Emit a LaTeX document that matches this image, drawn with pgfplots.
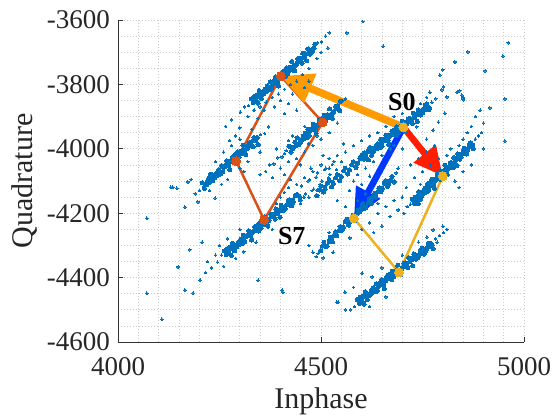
\documentclass[border=0pt]{standalone}
\usepackage{fontspec}
\setmainfont{Liberation Serif}
\usepackage{pgfplots}
\pgfplotsset{compat=1.18}
\usetikzlibrary{arrows.meta}
\definecolor{mblue}{rgb}{0,0.447,0.741}
\definecolor{mred}{rgb}{0.85,0.325,0.098}
\definecolor{myel}{rgb}{0.929,0.694,0.125}
\definecolor{aorange}{RGB}{255,155,0}
\definecolor{ared}{RGB}{255,30,0}
\definecolor{ablue}{RGB}{0,55,255}
\begin{document}
\begin{tikzpicture}
\begin{axis}[
  at={(118pt,74pt)}, anchor=south west,
  scale only axis, width=406pt, height=322pt,
  xmin=4000, xmax=5000, ymin=-4600, ymax=-3600,
  xtick={4000,4500,5000},
  ytick={-4600,-4400,-4200,-4000,-3800,-3600},
  minor x tick num=9, minor y tick num=3,
  grid=both,
  major grid style={gray!40, line width=0.7pt, dash pattern=on 0.8pt off 2.2pt},
  minor grid style={gray!40, line width=0.7pt, dash pattern=on 0.8pt off 2.2pt},
  axis x line*=bottom, axis y line*=left,
  axis line style={-, black!80, line width=0.8pt},
  tick align=inside,
  major tick length=5pt, minor tick length=0pt,
  every tick/.style={black!80, line width=0.8pt},
  /pgf/number format/assume math mode=true,
  /pgf/number format/1000 sep={},
  tick label style={font=\fontsize{27}{30}\selectfont, text=black!85, inner sep=0pt},
  xticklabel style={yshift=-15pt},
  yticklabel style={xshift=-8pt},
  xlabel={Inphase}, ylabel={Quadrature},
  every axis x label/.style={at={(axis description cs:0.5,-0.205)}, anchor=base, font=\fontsize{30}{34}\selectfont, text=black!85},
  every axis y label/.style={at={(axis description cs:-0.2094,0.5)}, anchor=base, rotate=90, font=\fontsize{30}{34}\selectfont, text=black!85},
  clip=true,
]
% dense streak cores
\addplot[only marks, color=mblue, mark=*, mark size=2.1pt, mark options={line width=0pt}] coordinates {
(4328,-3845) (4333,-3857) (4335,-3838) (4338,-3848) (4343,-3832) (4345,-3858)
(4348,-3819) (4353,-3843) (4355,-3830) (4358,-3830) (4363,-3814) (4365,-3822)
(4368,-3805) (4373,-3817) (4375,-3792) (4378,-3812) (4383,-3795) (4385,-3790)
(4388,-3777) (4393,-3793) (4395,-3805) (4398,-3779) (4403,-3763) (4405,-3774)
(4408,-3759) (4413,-3775) (4415,-3749) (4418,-3766) (4423,-3747) (4425,-3755)
(4428,-3729) (4433,-3745) (4435,-3758) (4438,-3740) (4443,-3721) (4445,-3728)
(4448,-3719) (4453,-3734) (4455,-3703) (4458,-3715) (4463,-3705) (4465,-3727)
(4468,-3690) (4473,-3706) (4475,-3699) (4478,-3699) (4483,-3687) (4485,-3675)
(4340,-3842) (4360,-3820) (4380,-3800) (4400,-3778) (4420,-3757) (4440,-3735) (4460,-3713) (4480,-3691)
(4350,-3831) (4370,-3810) (4390,-3789) (4410,-3768) (4430,-3746) (4450,-3724) (4470,-3702)
(4208,-4105) (4213,-4123) (4215,-4110) (4218,-4112) (4223,-4092) (4225,-4104)
(4228,-4079) (4233,-4099) (4235,-4093) (4238,-4090) (4243,-4074) (4245,-4082)
(4248,-4065) (4253,-4078) (4255,-4052) (4258,-4072) (4263,-4055) (4265,-4050)
(4268,-4037) (4273,-4053) (4275,-4065) (4278,-4039) (4283,-4024) (4285,-4034)
(4288,-4019) (4293,-4035) (4295,-4009) (4298,-4026) (4303,-4007) (4305,-4015)
(4308,-3989) (4313,-4005) (4315,-4018) (4318,-4000) (4323,-3981) (4325,-3988)
(4328,-3979) (4333,-3994) (4335,-3965) (4338,-3975) (4343,-3965) (4345,-3987)
(4220,-4102) (4240,-4080) (4260,-4058) (4280,-4036) (4300,-4014) (4320,-3992)
(4230,-4091) (4250,-4069) (4270,-4047) (4290,-4025) (4310,-4003)
(4421,-3992) (4426,-4010) (4428,-3997) (4431,-3999) (4436,-3979) (4438,-3991)
(4441,-3966) (4446,-3986) (4448,-3980) (4451,-3977) (4456,-3961) (4458,-3969)
(4461,-3952) (4466,-3965) (4468,-3939) (4471,-3959) (4476,-3942) (4478,-3937)
(4481,-3924) (4486,-3940) (4488,-3952) (4491,-3926) (4496,-3911) (4498,-3921)
(4501,-3906) (4506,-3922) (4508,-3896) (4511,-3913) (4516,-3894) (4518,-3902)
(4521,-3876) (4526,-3892) (4528,-3905) (4531,-3887) (4536,-3868) (4538,-3875)
(4541,-3866) (4546,-3881) (4548,-3852)
(4430,-3995) (4450,-3973) (4470,-3951) (4490,-3929) (4510,-3907) (4530,-3885)
(4440,-3984) (4460,-3962) (4480,-3940) (4500,-3918) (4520,-3896) (4540,-3874)
(4262,-4317) (4267,-4329) (4269,-4310) (4272,-4321) (4277,-4305) (4279,-4331)
(4282,-4293) (4287,-4317) (4289,-4304) (4292,-4305) (4297,-4289) (4299,-4297)
(4302,-4281) (4307,-4293) (4309,-4268) (4312,-4289) (4317,-4272) (4319,-4267)
(4322,-4255) (4327,-4271) (4329,-4283) (4332,-4258) (4337,-4242) (4339,-4253)
(4342,-4239) (4347,-4255) (4349,-4229) (4352,-4247) (4357,-4228) (4359,-4236)
(4362,-4211) (4367,-4227) (4369,-4240) (4372,-4223) (4377,-4204) (4379,-4211)
(4382,-4203) (4387,-4218) (4389,-4187) (4392,-4200) (4397,-4190) (4399,-4212)
(4402,-4176) (4407,-4192) (4409,-4185) (4412,-4186) (4417,-4174) (4419,-4162)
(4422,-4158) (4427,-4176) (4429,-4170) (4432,-4164) (4437,-4146) (4439,-4143)
(4442,-4142) (4447,-4148) (4449,-4159)
(4270,-4320) (4290,-4300) (4310,-4280) (4330,-4260) (4350,-4240) (4370,-4220) (4390,-4200) (4410,-4180) (4430,-4160)
(4280,-4310) (4300,-4290) (4320,-4270) (4340,-4250) (4360,-4230) (4380,-4210) (4400,-4190) (4420,-4170)
(4490,-4146) (4496,-4128) (4500,-4116) (4506,-4134) (4510,-4125) (4516,-4106)
(4520,-4098) (4526,-4118) (4530,-4108) (4536,-4090) (4540,-4080) (4546,-4099)
(4550,-4086) (4556,-4068) (4560,-4060) (4566,-4078) (4570,-4066) (4576,-4049)
(4580,-4040) (4586,-4058) (4590,-4045) (4596,-4030)
(4600,-4020) (4605,-4032) (4607,-4013) (4610,-4024) (4615,-4008) (4617,-4034)
(4620,-3996) (4625,-4020) (4627,-4007) (4630,-4008) (4635,-3992) (4637,-4000)
(4640,-3984) (4645,-3996) (4647,-3971) (4650,-3992) (4655,-3975) (4657,-3970)
(4660,-3958) (4665,-3974) (4667,-3986) (4670,-3961) (4675,-3945) (4677,-3956)
(4680,-3942) (4685,-3958) (4687,-3932) (4690,-3950) (4695,-3931) (4697,-3939)
(4700,-3914) (4705,-3930) (4707,-3943) (4710,-3926) (4715,-3907) (4717,-3914)
(4720,-3906) (4725,-3921) (4727,-3890) (4730,-3903) (4735,-3893) (4737,-3915)
(4740,-3879) (4745,-3895) (4747,-3888) (4750,-3889) (4755,-3877) (4757,-3865)
(4760,-3861) (4765,-3879) (4767,-3873)
(4610,-4018) (4630,-3998) (4650,-3978) (4670,-3958) (4690,-3938) (4710,-3918) (4730,-3898) (4750,-3878)
(4620,-4008) (4640,-3988) (4660,-3968) (4680,-3948) (4700,-3928) (4720,-3908) (4740,-3888) (4760,-3868)
(4725,-4157) (4730,-4169) (4731,-4150) (4733,-4161) (4738,-4145) (4739,-4171)
(4741,-4133) (4746,-4157) (4747,-4144) (4749,-4145) (4754,-4129) (4755,-4137)
(4757,-4121) (4762,-4133) (4763,-4108) (4765,-4129) (4770,-4112) (4771,-4107)
(4773,-4095) (4778,-4111) (4779,-4123) (4781,-4098) (4786,-4082) (4787,-4093)
(4789,-4079) (4794,-4095) (4795,-4069) (4797,-4087) (4802,-4068) (4803,-4076)
(4805,-4051) (4810,-4067) (4811,-4080) (4813,-4063) (4818,-4044) (4819,-4051)
(4821,-4043) (4826,-4058) (4827,-4027) (4829,-4040) (4834,-4030) (4835,-4052)
(4837,-4016) (4842,-4032) (4843,-4025) (4845,-4026) (4850,-4014) (4851,-4002)
(4853,-3998) (4858,-4016) (4859,-4010) (4861,-4004) (4866,-3986) (4867,-3983)
(4869,-3982) (4874,-3988) (4875,-3999)
(4736,-4155) (4752,-4135) (4768,-4115) (4784,-4095) (4800,-4075) (4816,-4055) (4832,-4035) (4848,-4015) (4864,-3995)
(4744,-4145) (4760,-4125) (4776,-4105) (4792,-4085) (4808,-4065) (4824,-4045) (4840,-4025) (4856,-4005)
(4499,-4316) (4504,-4302) (4507,-4290) (4512,-4304) (4515,-4302) (4520,-4287)
(4523,-4275) (4528,-4289) (4531,-4270) (4536,-4258) (4539,-4270) (4544,-4254)
(4547,-4242) (4552,-4252) (4555,-4243) (4560,-4227) (4563,-4219) (4568,-4237)
(4571,-4228) (4576,-4219) (4579,-4206) (4584,-4223) (4587,-4205) (4592,-4191)
(4595,-4196) (4600,-4182) (4603,-4170) (4608,-4184) (4611,-4182) (4616,-4167)
(4619,-4155) (4624,-4169) (4627,-4150) (4632,-4138) (4635,-4150) (4640,-4134)
(4643,-4122) (4648,-4132) (4651,-4123) (4656,-4107) (4659,-4099) (4664,-4117)
(4667,-4108) (4672,-4099) (4675,-4086) (4680,-4103)
(4525,-4280) (4549,-4250) (4573,-4220) (4597,-4190) (4621,-4160) (4645,-4130) (4669,-4100)
(4589,-4468) (4594,-4480) (4596,-4461) (4599,-4472) (4604,-4456) (4606,-4482)
(4609,-4444) (4614,-4468) (4616,-4455) (4619,-4456) (4624,-4440) (4626,-4448)
(4629,-4432) (4634,-4444) (4636,-4419) (4639,-4440) (4644,-4423) (4646,-4418)
(4649,-4406) (4654,-4422) (4656,-4434) (4659,-4409) (4664,-4393) (4666,-4404)
(4669,-4390) (4674,-4406) (4676,-4380) (4679,-4398) (4684,-4379) (4686,-4387)
(4689,-4362) (4694,-4378) (4696,-4391) (4699,-4374) (4704,-4355) (4706,-4362)
(4709,-4354) (4714,-4369) (4716,-4338) (4719,-4351) (4724,-4341) (4726,-4363)
(4729,-4327) (4734,-4343) (4736,-4336) (4739,-4337) (4744,-4325) (4746,-4313)
(4749,-4309) (4754,-4327) (4756,-4321) (4759,-4315) (4764,-4297) (4766,-4294)
(4769,-4293) (4774,-4299) (4776,-4310)
(4620,-4451) (4640,-4430) (4660,-4402) (4680,-4391) (4700,-4370) (4720,-4344)
(4740,-4331) (4750,-4312) (4630,-4440) (4670,-4398) (4710,-4360) (4730,-4340)
(4600,-4468) (4650,-4418) (4690,-4378) (4760,-4308) (4610,-4458) (4645,-4423) (4725,-4343) (4765,-4303)
};
% scattered points
\addplot[only marks, color=mblue, mark=*, mark size=1.2pt, mark options={line width=0pt}] coordinates {
(4301,-3886) (4311,-3870) (4321,-3866) (4491,-3671) (4501,-3668) (4511,-3650)
(4320,-3900) (4335,-3880) (4350,-3870) (4365,-3855) (4380,-3840) (4395,-3830)
(4410,-3815) (4425,-3800) (4440,-3790) (4455,-3770) (4470,-3750) (4490,-3720)
(4360,-3880) (4400,-3850) (4430,-3830) (4345,-3905) (4385,-3870) (4470,-3790)
(4500,-3700) (4520,-3640) (4420,-3860) (4460,-3810) (4440,-3880) (4410,-3890)
(4265,-3930) (4280,-3910) (4290,-3960) (4300,-3935) (4275,-3975)
(4201,-4130) (4351,-3955) (4361,-3952) (4371,-3932)
(4135,-4119) (4145,-4122) (4172,-4103) (4165,-4181) (4197,-4165) (4239,-4153)
(4190,-4140) (4180,-4095) (4255,-4110) (4270,-4095) (4300,-4060) (4320,-4040)
(4240,-4040) (4260,-4010) (4300,-3970) (4330,-3940) (4310,-4070) (4350,-4010)
(4280,-3990) (4225,-4130)
(4364,-4070) (4374,-4050) (4384,-4047) (4394,-4028) (4404,-4025) (4414,-4006)
(4410,-4015) (4554,-3850) (4560,-3845)
(4400,-4060) (4420,-4040) (4440,-4030) (4460,-4010) (4480,-3990) (4500,-3970)
(4520,-3950) (4380,-4090) (4410,-4080) (4450,-4050) (4470,-3985) (4490,-3960)
(4430,-3960) (4460,-3930) (4540,-3920) (4350,-4080) (4390,-4000) (4420,-3975)
(4245,-4352) (4255,-4330)
(4452,-4115) (4458,-4150) (4462,-4140) (4468,-4100) (4472,-4095) (4478,-4130)
(4482,-4125) (4488,-4088) (4492,-4075) (4498,-4110) (4502,-4100) (4508,-4065)
(4512,-4060) (4518,-4090) (4522,-4080) (4528,-4048) (4532,-4040) (4538,-4065)
(4400,-4150) (4420,-4120) (4440,-4110) (4460,-4090) (4480,-4070) (4500,-4050)
(4520,-4030) (4410,-4135) (4430,-4180) (4450,-4170) (4470,-4150) (4490,-4130)
(4510,-4115) (4530,-4100) (4545,-4080) (4390,-4170) (4425,-4095) (4475,-4060)
(4505,-4020) (4540,-4020)
(4230,-4370) (4240,-4330) (4220,-4350) (4290,-4340) (4310,-4320) (4340,-4290)
(4270,-4280) (4250,-4300) (4300,-4250) (4380,-4250) (4215,-4385) (4260,-4365)
(4773,-3855) (4783,-3845)
(4560,-4010) (4580,-3990) (4600,-3975) (4620,-3960) (4640,-3950) (4550,-4040)
(4590,-4080) (4610,-4060) (4630,-4040) (4650,-4020) (4670,-4000) (4540,-4160)
(4570,-4130) (4600,-4110) (4520,-4060) (4580,-4100) (4660,-3930) (4680,-3990)
(4620,-4085) (4555,-3985)
(4793,-3771) (4801,-3808) (4768,-3824) (4810,-3839) (4805,-3889) (4789,-3917)
(4776,-3942) (4736,-3932) (4724,-3911) (4835,-3824) (4847,-3833) (4850,-3848)
(4830,-3730) (4760,-3840) (4745,-3860) (4700,-3890) (4680,-3900)
(4704,-4200) (4712,-4180) (4720,-4172) (4880,-3970) (4888,-3960) (4896,-3950)
(4892,-3880) (4880,-3900) (4870,-3930) (4860,-3950) (4900,-3920) (4850,-3970)
(4840,-3990) (4720,-4050) (4740,-4030) (4760,-4010) (4780,-3990) (4730,-4090)
(4750,-4070) (4770,-4050) (4710,-4120) (4700,-4000) (4690,-4060) (4745,-4110)
(4790,-4030) (4810,-4020) (4760,-3970) (4820,-4000) (4830,-4100) (4850,-4070)
(4870,-4050) (4840,-4120) (4900,-4000) (4916,-3873) (4953,-3976) (4953,-3845)
(4493,-4325) (4685,-4075) (4488,-4335)
(4480,-4321) (4505,-4339) (4530,-4321) (4571,-4277) (4600,-4250) (4620,-4230)
(4640,-4200) (4660,-4180) (4680,-4160) (4630,-4260) (4650,-4240) (4670,-4210)
(4690,-4190) (4610,-4140) (4590,-4160) (4640,-4170) (4700,-4150) (4560,-4180)
(4520,-4260) (4470,-4300)
(4572,-4500) (4582,-4490) (4782,-4280) (4792,-4270) (4802,-4260)
(4559,-4445) (4542,-4476) (4601,-4386) (4626,-4398) (4761,-4274) (4776,-4252)
(4786,-4290) (4539,-4476) (4580,-4430) (4650,-4370) (4700,-4330) (4740,-4290)
(4620,-4490) (4660,-4460) (4800,-4240) (4810,-4250) (4560,-4500)
(4071,-4215) (4148,-4367) (4202,-4408) (4165,-4439) (4071,-4448) (4108,-4529)
(4603,-3605) (4564,-3640) (4653,-3681) (4517,-3687) (4800,-3755) (4862,-3699)
(4904,-3758) (4961,-3671) (4948,-3712) (4830,-3730) (4842,-3820) (4404,-4439)
(4185,-4448) (4345,-4408) (4406,-4445) (4207,-4290) (4177,-4314) (4130,-4119)
(4798,-3817) (4850,-3842)
};
% polygons
\addplot[mred, line width=2.5pt] coordinates {(4401,-3774) (4504,-3918) (4360,-4221) (4291,-4038) (4401,-3774)};
\addplot[myel, line width=2.5pt] coordinates {(4703,-3933) (4800,-4085) (4692,-4384) (4581,-4216) (4703,-3933)};
% arrows
\addplot[aorange, line width=7.5pt, -{Triangle[length=32pt,width=30pt]}] coordinates {(4703,-3933) (4401,-3774)};
\addplot[ared, line width=6.5pt, -{Triangle[length=29pt,width=27pt]}] coordinates {(4703,-3933) (4800,-4085)};
\addplot[ablue, line width=6.5pt, -{Triangle[length=30pt,width=26pt]}] coordinates {(4703,-3933) (4581,-4216)};
% vertex marks
\addplot[only marks, color=mred, mark=*, mark size=4.5pt, mark options={line width=0pt}] coordinates {(4401,-3774) (4504,-3918) (4360,-4221) (4291,-4038)};
\addplot[only marks, color=myel, mark=*, mark size=4.5pt, mark options={line width=0pt}] coordinates {(4703,-3933) (4800,-4085) (4692,-4384) (4581,-4216)};
\node[font=\bfseries\fontsize{26}{30}\selectfont, text=black] at (axis cs:4699,-3854) {S0};
\node[font=\bfseries\fontsize{26}{30}\selectfont, text=black] at (axis cs:4428,-4271) {S7};
\end{axis}
\pgfresetboundingbox
\path[use as bounding box] (0,0) rectangle (556pt,416pt);
\end{tikzpicture}
\end{document}
